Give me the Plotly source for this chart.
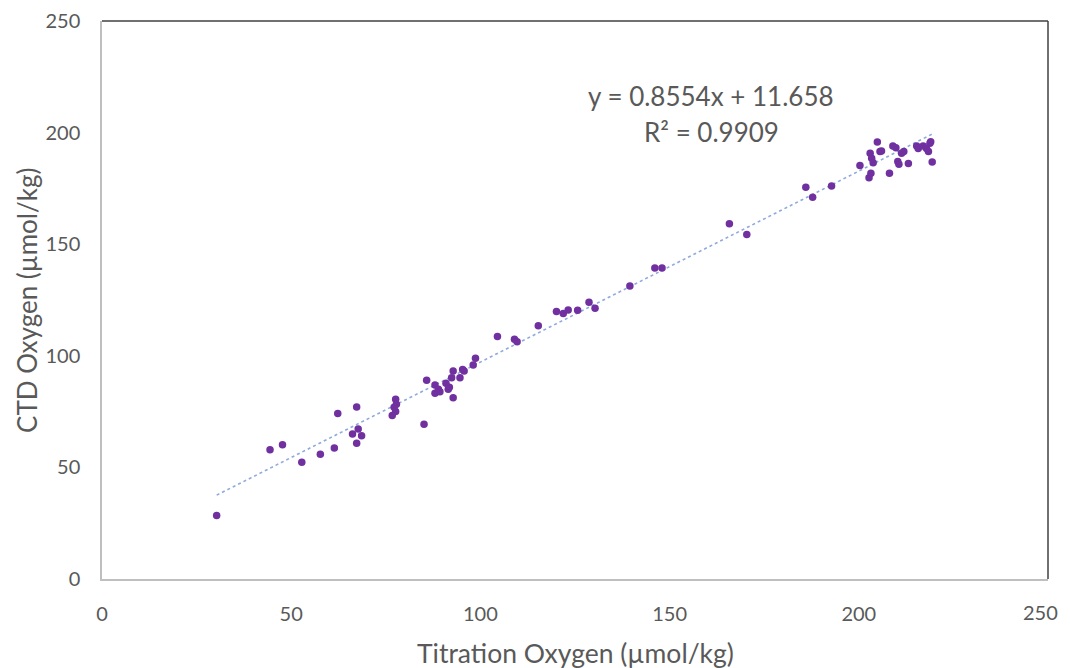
import plotly.graph_objects as go

# Titration vs CTD oxygen (µmol/kg)
titration = [30.3, 44.4, 47.7, 52.8, 57.7, 61.4, 62.3, 67.3, 67.3, 66.2, 67.7, 68.6,
             77.6, 77.8, 77.6, 76.7, 77.2, 85.1, 85.8, 88.0, 88.0, 88.9, 89.3, 90.9,
             91.5, 91.8, 92.8, 92.4, 92.8, 94.6, 95.3, 95.7, 98.1, 98.7, 104.5, 109.0,
             109.7, 115.3, 120.1, 121.9, 123.2, 125.7, 128.7, 130.3, 139.5, 146.1, 148.0,
             165.8, 170.4, 186.0, 187.8, 192.8, 200.3, 202.7, 203.2, 203.0, 203.4, 203.8,
             204.9, 205.6, 206.0, 208.1, 209.0, 209.8, 210.3, 210.6, 211.3, 211.9, 213.1,
             215.3, 215.7, 217.0, 218.4, 218.8, 219.0, 219.4, 217.9]
ctd = [28.4, 57.9, 60.2, 52.3, 55.9, 58.7, 74.2, 77.1, 60.8, 65.0, 67.2, 64.2,
       80.5, 78.3, 75.0, 73.2, 76.9, 69.3, 89.0, 86.9, 83.2, 85.0, 83.9, 87.7,
       85.0, 85.9, 81.2, 90.2, 93.2, 90.2, 93.9, 93.2, 95.9, 98.9, 108.6, 107.4,
       106.3, 113.5, 119.8, 119.0, 120.5, 120.4, 124.0, 121.3, 131.3, 139.3, 139.3,
       159.2, 154.3, 175.5, 171.0, 176.1, 185.3, 179.8, 181.8, 190.7, 188.5, 186.5,
       195.8, 191.5, 191.8, 181.8, 194.0, 193.2, 187.0, 185.8, 190.7, 191.5, 186.1,
       194.0, 192.9, 194.0, 191.5, 195.2, 195.9, 186.8, 192.9]

x_ticks = [0, 50, 100, 150, 200, 250]
y_ticks = [0, 50, 100, 150, 200, 250]

slope = 0.8554
intercept = 11.658
r2 = 0.9909

trend_x = [min(titration), max(titration)]
trend_y = [slope * v + intercept for v in trend_x]

grey = "#595959"
font = "Lato, Open Sans, sans-serif"

fig = go.Figure()
fig.add_trace(go.Scatter(
    x=trend_x, y=trend_y, mode="lines",
    line=dict(color="#8FAADC", width=1.6, dash="dot"),
    hoverinfo="skip", showlegend=False
))
fig.add_trace(go.Scatter(
    x=titration, y=ctd, mode="markers",
    marker=dict(color="#7030A0", size=7.5, line=dict(width=0)),
    showlegend=False
))

# trendline equation
fig.add_annotation(x=0.6438, y=0.8656, xref="paper", yref="paper",
                   xanchor="center", yanchor="middle",
                   text=f"y = {slope}x + {intercept}", showarrow=False,
                   font=dict(family=font, size=26, color=grey))
fig.add_annotation(x=0.6438, y=0.801, xref="paper", yref="paper",
                   xanchor="center", yanchor="middle",
                   text=f"R² = {r2}", showarrow=False,
                   font=dict(family=font, size=26, color=grey))

# last x tick label sits at the window edge, so it is drawn right-aligned
fig.add_annotation(x=x_ticks[-1], y=-0.06, xref="x", yref="paper",
                   xanchor="right", yanchor="middle", xshift=12,
                   text=str(x_ticks[-1]), showarrow=False,
                   font=dict(family=font, size=20, color=grey))

# axis titles
fig.add_annotation(x=0.5, y=-0.1326, xref="paper", yref="paper",
                   xanchor="center", yanchor="middle",
                   text="Titration Oxygen (µmol/kg)", showarrow=False,
                   font=dict(family=font, size=26.5, color=grey))
fig.add_annotation(x=-0.0793, y=0.5, xref="paper", yref="paper",
                   xanchor="center", yanchor="middle",
                   text="CTD Oxygen (µmol/kg)", showarrow=False, textangle=-90,
                   font=dict(family=font, size=26, color=grey))

# Excel-style frame: light left/bottom, dark top/right
fig.add_shape(type="line", xref="paper", yref="paper", x0=0, x1=1, y0=1, y1=1,
              line=dict(color="#404040", width=1.5))
fig.add_shape(type="line", xref="paper", yref="paper", x0=1, x1=1, y0=0, y1=1,
              line=dict(color="#404040", width=1.5))

# page body adds an 8px offset, so size and margins are shifted to compensate
fig.update_layout(
    width=1062, height=660,
    margin=dict(l=94, r=22, t=13, b=89),
    paper_bgcolor="white", plot_bgcolor="white",
    font=dict(family=font, color=grey),
    xaxis=dict(
        range=[0, 250], tickvals=x_ticks[:-1], showgrid=False, zeroline=False,
        automargin=False, showline=True, linecolor="#BFBFBF", linewidth=1.5,
        tickfont=dict(size=20, color=grey), ticks="", ticklabelstandoff=16
    ),
    yaxis=dict(
        range=[0, 250], tickvals=y_ticks, showgrid=False, zeroline=False,
        automargin=False, showline=True, linecolor="#BFBFBF", linewidth=1.5,
        tickfont=dict(size=20, color=grey), ticks="", ticklabelstandoff=16
    ),
)

fig.write_html("out.html")
